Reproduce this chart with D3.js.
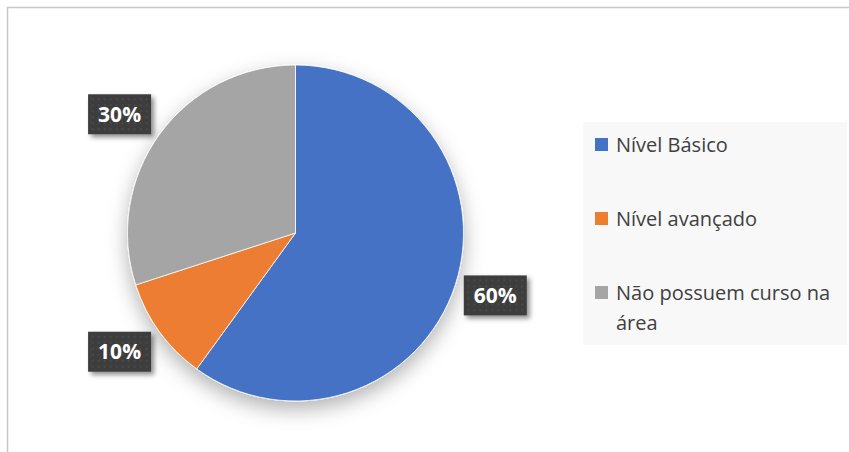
<!DOCTYPE html>
<html>
<head>
<meta charset="utf-8">
<script src="https://cdn.jsdelivr.net/npm/d3@7"></script>
<style>
  html, body { margin: 0; padding: 0; background: #fff; }
  svg { display: block; font-family: "Open Sans", sans-serif; }
</style>
</head>
<body>
<div id="chart"></div>
<script>
// chart data
const categories = ['Nível Básico', 'Nível avançado', 'Não possuem curso na área'];
const legendLines = [['Nível Básico'], ['Nível avançado'], ['Não possuem curso na', 'área']];
const values = [60, 10, 30];
const labels = ['60%', '10%', '30%'];
const colors = ['#4472C4', '#ED7D31', '#A5A5A5'];

const width = 849, height = 452;
const cx = 295.5, cy = 233, radius = 168;

const svg = d3.select('#chart').append('svg')
  .attr('width', width)
  .attr('height', height);

const defs = svg.append('defs');

// soft shadow under the pie
const pieShadow = defs.append('filter').attr('id', 'pieShadow')
  .attr('x', '-30%').attr('y', '-30%').attr('width', '160%').attr('height', '160%');
pieShadow.append('feDropShadow')
  .attr('dx', 0).attr('dy', 8).attr('stdDeviation', 10)
  .attr('flood-color', '#000').attr('flood-opacity', 0.3);

// shadow under label boxes
const boxShadow = defs.append('filter').attr('id', 'boxShadow')
  .attr('x', '-30%').attr('y', '-30%').attr('width', '160%').attr('height', '160%');
boxShadow.append('feDropShadow')
  .attr('dx', 3).attr('dy', 3).attr('stdDeviation', 2.5)
  .attr('flood-color', '#000').attr('flood-opacity', 0.45);

// dotted dark fill for data labels
const dots = defs.append('pattern').attr('id', 'dots')
  .attr('patternUnits', 'userSpaceOnUse').attr('width', 6).attr('height', 6);
dots.append('rect').attr('width', 6).attr('height', 6).attr('fill', '#3d3d3d');
dots.append('rect').attr('x', 2).attr('y', 2).attr('width', 2).attr('height', 2).attr('fill', '#4a4a4a');

// chart area border (cropped on right and bottom)
svg.append('rect')
  .attr('x', 7.5).attr('y', 7.5)
  .attr('width', width + 20).attr('height', height + 20)
  .attr('fill', '#fff')
  .attr('stroke', '#c8c8c8')
  .attr('stroke-width', 1.5);

const pie = d3.pie().sort(null).value(d => d)(values);
const arc = d3.arc().innerRadius(0).outerRadius(radius);

const g = svg.append('g').attr('transform', `translate(${cx},${cy})`);

g.append('g').attr('filter', 'url(#pieShadow)')
  .selectAll('path')
  .data(pie)
  .join('path')
  .attr('d', arc)
  .attr('fill', (d, i) => colors[i])
  .attr('stroke', '#fff')
  .attr('stroke-width', 0.8);

// "outside end" labels: box sits beside the arc edge at the slice's mid angle
const bw = 63, bh = 40, gap = 8.5;
function labelPos(d) {
  const a = (d.startAngle + d.endAngle) / 2;
  const dx = Math.sin(a), dy = -Math.cos(a);
  const ex = dx * radius, ey = dy * radius;
  return [ex + Math.sign(dx) * (gap + bw / 2), ey + dy * 34];
}

const lab = g.selectAll('g.lab')
  .data(pie)
  .join('g')
  .attr('class', 'lab')
  .attr('transform', d => `translate(${labelPos(d)})`);

lab.append('rect')
  .attr('x', -bw / 2).attr('y', -bh / 2)
  .attr('width', bw).attr('height', bh)
  .attr('fill', 'url(#dots)')
  .attr('filter', 'url(#boxShadow)');

lab.append('text')
  .attr('text-anchor', 'middle')
  .attr('dy', '0.36em')
  .attr('fill', '#fff')
  .attr('font-size', 21)
  .attr('font-weight', 'bold')
  .text((d, i) => labels[i]);

// legend
const legend = svg.append('g');
legend.append('rect')
  .attr('x', 583).attr('y', 122)
  .attr('width', 264).attr('height', 223)
  .attr('fill', '#f8f8f8');

const rowY = [145, 219, 293];
const items = legend.selectAll('g.item')
  .data(categories)
  .join('g')
  .attr('class', 'item')
  .attr('transform', (d, i) => `translate(595,${rowY[i]})`);

items.append('rect')
  .attr('x', 0).attr('y', -7)
  .attr('width', 13).attr('height', 13)
  .attr('fill', (d, i) => colors[i]);

items.append('text')
  .attr('fill', '#404040')
  .attr('font-size', 20)
  .selectAll('tspan')
  .data((d, i) => legendLines[i])
  .join('tspan')
  .attr('x', 21)
  .attr('y', (d, j) => j * 30)
  .attr('dy', '0.35em')
  .text(d => d);
</script>
</body>
</html>
